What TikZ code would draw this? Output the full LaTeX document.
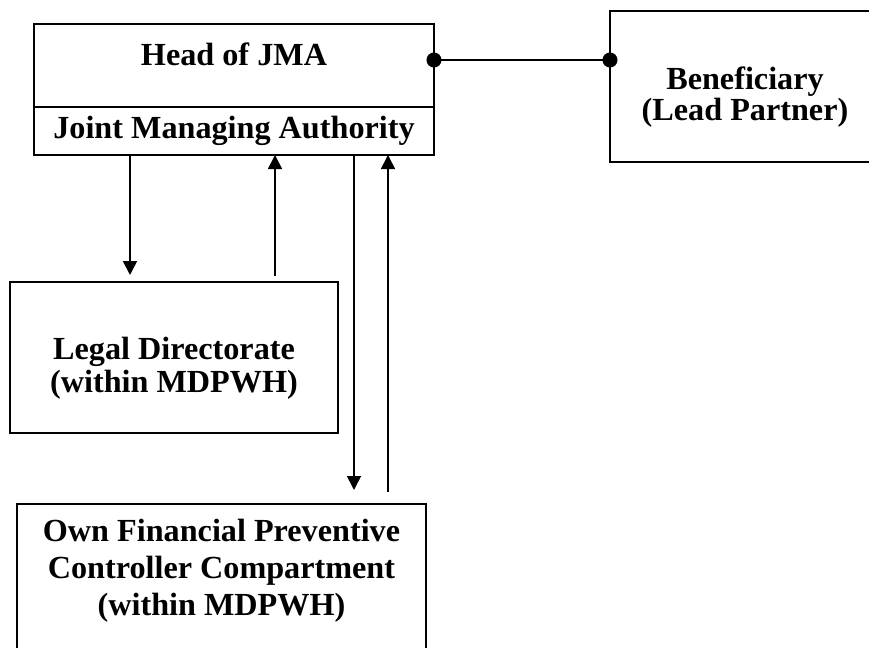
\documentclass[tikz,border=0pt]{standalone}
\usepackage{fontspec}
\setmainfont{Liberation Serif}
\usetikzlibrary{arrows.meta,positioning}
\tikzstyle{box}=[rectangle,draw=black,line width=1pt,inner sep=0pt,outer sep=0pt]
\tikzstyle{lbl}=[align=center,inner sep=0pt,font=\bfseries\fontsize{16.1}{16.5}\selectfont]
\tikzstyle{flow}=[line width=0.85pt]
\tikzstyle{link}=[line width=0.85pt,{Circle[length=7.5pt]}-{Circle[length=7.5pt]},
shorten <=-3.75pt,shorten >=-3.75pt]

\begin{document}
\begin{tikzpicture}[x=0.5pt,y=-0.5pt,>={Triangle[length=7pt,width=7pt]}]
            \path[use as bounding box,clip] (0,0) rectangle (869,648);

            % JMA PART
            \node[box,minimum width=200pt,minimum height=41.5pt,
                  label={[lbl,yshift=5.75pt]center:Head of JMA}] (head) at (234,65.5) {};
            \node[box,below=0pt of head,minimum width=200pt,minimum height=24pt,
                  label={[lbl]center:Joint Managing Authority}] (jma) {};

            \node[box,minimum width=135pt,minimum height=75.5pt,
                  label={[lbl,font=\bfseries\fontsize{16.1}{15.5}\selectfont,yshift=-5.5pt]center:Beneficiary\\(Lead Partner)}] (bene) at (745,86.5) {};

            % MDPWH PART
            \node[box,minimum width=164pt,minimum height=75.5pt,
                  label={[lbl,yshift=-5.5pt]center:Legal Directorate\\(within MDPWH)}] (legal) at (174,357.5) {};
            \node[box,minimum width=204.5pt,minimum height=78pt,
                  label={[lbl,font=\bfseries\fontsize{16.1}{18.5}\selectfont,yshift=5.75pt]center:Own Financial Preventive\\Controller Compartment\\(within MDPWH)}] (own) at (221.5,582) {};

            % Connections
            \coordinate (dot) at ([yshift=2.75pt]head.east);
            \draw[link] (dot) -- (dot -| bene.west);

            \draw[->,flow,shorten >=3.5pt] (jma.south -| 130,0) -- (legal.north -| 130,0);
            \draw[->,flow,shorten <=3pt] (legal.north -| 275,0) -- (jma.south -| 275,0);
            \draw[->,flow,shorten >=7pt] (jma.south -| 354,0) -- (own.north -| 354,0);
            \draw[->,flow,shorten <=6pt] (own.north -| 388,0) -- (jma.south -| 388,0);

\end{tikzpicture}
\end{document}
